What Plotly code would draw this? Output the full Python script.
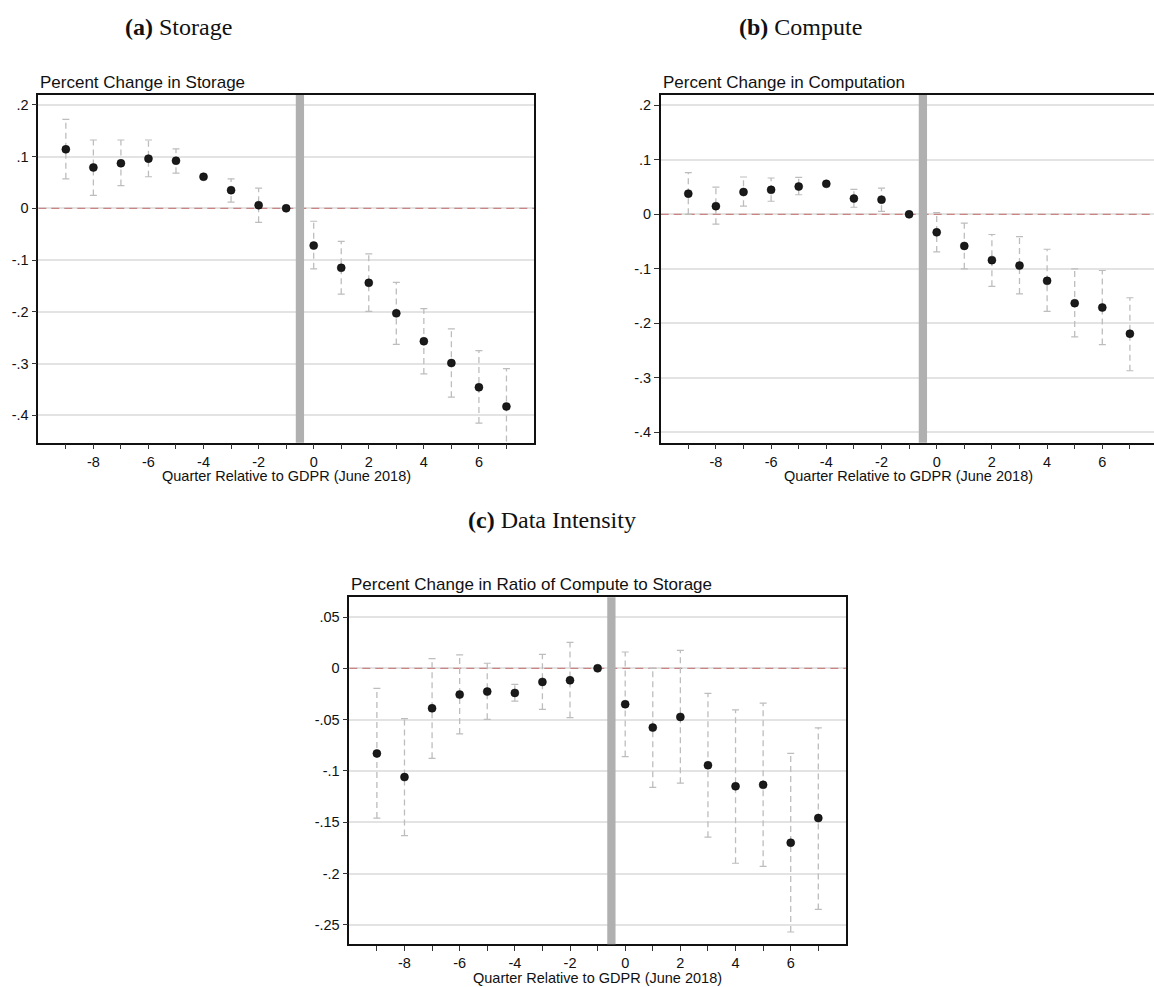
import plotly.graph_objects as go

W, H = 1154, 987

quarters = list(range(-9, 8))

storage_est = [0.114, 0.079, 0.087, 0.096, 0.092, 0.061, 0.035, 0.006, 0.0,
               -0.072, -0.115, -0.144, -0.203, -0.257, -0.299, -0.346, -0.383]
storage_hi = [0.172, 0.132, 0.132, 0.132, 0.115, 0.064, 0.057, 0.039, None,
              -0.025, -0.064, -0.088, -0.143, -0.194, -0.233, -0.275, -0.310]
storage_lo = [0.057, 0.025, 0.044, 0.061, 0.068, 0.058, 0.012, -0.027, None,
              -0.117, -0.166, -0.199, -0.263, -0.320, -0.365, -0.415, -0.470]

compute_est = [0.038, 0.015, 0.041, 0.045, 0.051, 0.056, 0.029, 0.027, 0.0,
               -0.033, -0.058, -0.084, -0.094, -0.122, -0.163, -0.171, -0.219]
compute_hi = [0.0765, 0.050, 0.0685, 0.0667, 0.068, 0.058, 0.046, 0.048, None,
              0.003, -0.016, -0.037, -0.041, -0.064, -0.100, -0.103, -0.153]
compute_lo = [0.000, -0.018, 0.015, 0.024, 0.036, 0.054, 0.013, 0.0055, None,
              -0.069, -0.100, -0.132, -0.146, -0.178, -0.225, -0.239, -0.287]

ratio_est = [-0.083, -0.106, -0.039, -0.0256, -0.0227, -0.024, -0.0133, -0.0117, 0.0,
             -0.035, -0.0578, -0.0474, -0.0945, -0.115, -0.1136, -0.170, -0.146]
ratio_hi = [-0.0195, -0.049, 0.0094, 0.013, 0.0049, -0.0156, 0.0136, 0.0253, None,
            0.0159, 0.0, 0.0175, -0.0244, -0.0406, -0.034, -0.083, -0.058]
ratio_lo = [-0.146, -0.163, -0.0877, -0.064, -0.0497, -0.032, -0.040, -0.048, None,
            -0.086, -0.116, -0.112, -0.1646, -0.190, -0.193, -0.257, -0.235]

xtick_vals = [-8, -6, -4, -2, 0, 2, 4, 6]

ytick_vals_ab = [0.2, 0.1, 0.0, -0.1, -0.2, -0.3, -0.4]
ytick_text_ab = [".2", ".1", "0", "-.1", "-.2", "-.3", "-.4"]
ytick_vals_c = [0.05, 0.0, -0.05, -0.1, -0.15, -0.2, -0.25]
ytick_text_c = [".05", "0", "-.05", "-.1", "-.15", "-.2", "-.25"]

panel_titles = ["Percent Change in Storage", "Percent Change in Computation",
                "Percent Change in Ratio of Compute to Storage"]
header_titles = [("(a)", "Storage"), ("(b)", "Compute"), ("(c)", "Data Intensity")]
x_title = "Quarter Relative to GDPR (June 2018)"

# pixel geometry of panels: (left, right, top, bottom)
geo = [
    (38.3, 534.0, 95.0, 442.7),
    (660.7, 1154.0, 95.0, 442.7),
    (349.3, 845.9, 597.3, 944.3),
]
x_ranges = [[-10, 8], [-10, -10 + (1154 - 660.7) / 27.6], [-10, 8]]
y_ranges = [[-0.453, 0.219], [-0.419, 0.219], [-0.269, 0.0692]]

series = [
    (storage_est, storage_lo, storage_hi, ytick_vals_ab, ytick_text_ab),
    (compute_est, compute_lo, compute_hi, ytick_vals_ab, ytick_text_ab),
    (ratio_est, ratio_lo, ratio_hi, ytick_vals_c, ytick_text_c),
]

ERR = "#bdbdbd"
GRID = "#e3e3e3"
ZERO = "#c98484"
BAND = "#b0b0b0"

fig = go.Figure()
layout = dict(
    width=W, height=H,
    margin=dict(l=0, r=0, t=0, b=0),
    paper_bgcolor="white", plot_bgcolor="white",
    showlegend=False,
    font=dict(family="Liberation Sans, Arial, sans-serif", color="#111111"),
)
shapes = []
annotations = []

for i, (est, lo, hi, yv, yt) in enumerate(series):
    l, r, t, b = geo[i]
    xa = "xaxis" if i == 0 else f"xaxis{i+1}"
    ya = "yaxis" if i == 0 else f"yaxis{i+1}"
    xr = "x" if i == 0 else f"x{i+1}"
    yr = "y" if i == 0 else f"y{i+1}"

    # zero reference line (drawn as a trace so it sits above the grid)
    fig.add_trace(go.Scatter(x=x_ranges[i], y=[0, 0], mode="lines",
                             xaxis=xr, yaxis=yr, hoverinfo="skip",
                             line=dict(color=ZERO, width=1.2, dash="8px,5px")))

    # error bar segments
    ex, ey = [], []
    cx, cy = [], []
    for q, a, c in zip(quarters, lo, hi):
        if a is None or c is None:
            continue
        ex += [q, q, None]
        ey += [a, c, None]
        cx += [q, q]
        cy += [a, c]
    fig.add_trace(go.Scatter(x=ex, y=ey, mode="lines", xaxis=xr, yaxis=yr,
                             line=dict(color=ERR, width=1.3, dash="6px,4px"),
                             hoverinfo="skip"))
    fig.add_trace(go.Scatter(x=cx, y=cy, mode="markers", xaxis=xr, yaxis=yr,
                             marker=dict(symbol="line-ew-open", size=5, color=ERR,
                                         line=dict(color=ERR, width=1.2)),
                             hoverinfo="skip"))
    fig.add_trace(go.Scatter(x=quarters, y=est, mode="markers", xaxis=xr, yaxis=yr,
                             marker=dict(color="#1a1a1a", size=8,
                                         line=dict(color="#000000", width=0.5))))

    layout[xa] = dict(
        domain=[l / W, r / W], range=x_ranges[i], anchor=yr,
        tickmode="array", tickvals=quarters,
        ticktext=[str(q) if q in xtick_vals else "" for q in quarters],
        ticks="outside", ticklen=5, tickwidth=1.2, tickcolor="#333333",
        showgrid=False, zeroline=False,
        showline=True, linecolor="#111111", linewidth=1.5, mirror=True,
        tickfont=dict(size=14.5, color="#111111"),
    )
    layout[ya] = dict(
        domain=[1 - b / H, 1 - t / H], range=y_ranges[i], anchor=xr,
        tickmode="array", tickvals=yv, ticktext=yt,
        ticks="outside", ticklen=5, tickwidth=1.2, tickcolor="#333333",
        showgrid=True, gridcolor=GRID, gridwidth=1.5, zeroline=False,
        showline=True, linecolor="#111111", linewidth=1.5,
        mirror=(i != 1),
        tickfont=dict(size=14.5, color="#111111"),
    )

    # GDPR band
    shapes.append(dict(type="rect", xref=xr, yref="paper",
                       x0=-0.65, x1=-0.35, y0=1 - b / H, y1=1 - t / H,
                       layer="above", fillcolor=BAND, line=dict(width=0)))

    # panel title (Stata-style)
    annotations.append(dict(text=panel_titles[i], xref="paper", yref="paper",
                            x=l / W, y=1 - (t - 13) / H, xanchor="left",
                            yanchor="middle", showarrow=False,
                            font=dict(size=17, color="#111111")))
    # x axis title
    annotations.append(dict(text=x_title, xref="paper", yref="paper",
                            x=((l + (r if i != 1 else 1157)) / 2) / W,
                            y=1 - (b + 33.5) / H, xanchor="center",
                            yanchor="middle", showarrow=False,
                            font=dict(size=14.5, color="#111111")))

# figure headers
header_pos = [(178, 27), (800, 27), (552, 520)]
for (lab, txt), (hx, hy) in zip(header_titles, header_pos):
    annotations.append(dict(text=f"<b>{lab}</b> {txt}", xref="paper", yref="paper",
                            x=hx / W, y=1 - hy / H, xanchor="center",
                            yanchor="middle", showarrow=False,
                            font=dict(family="Liberation Serif, serif", size=24,
                                      color="#111111")))

layout["shapes"] = shapes
layout["annotations"] = annotations
fig.update_layout(**layout)

fig.write_html(
    "out.html",
    config={"displayModeBar": False},
    post_script="document.body.style.margin='0';document.body.style.overflow='hidden';",
)
